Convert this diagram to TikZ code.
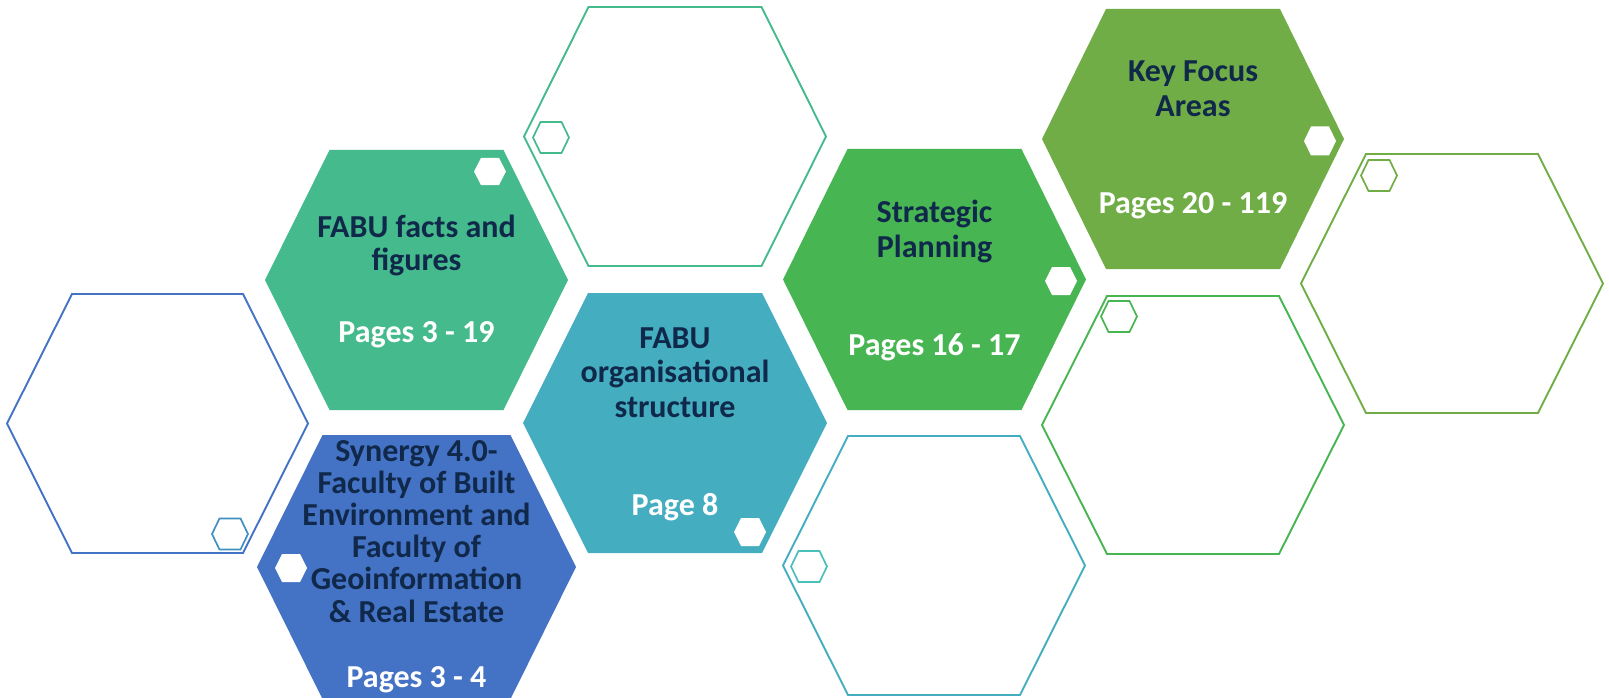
\documentclass[tikz,border=0pt]{standalone}
\usepackage{fontspec}
\setmainfont{Carlito}
\definecolor{cblue}{HTML}{4472C4}
\definecolor{cteal}{HTML}{44AEC0}
\definecolor{cmint}{HTML}{45BA8C}
\definecolor{cgreen}{HTML}{48B553}
\definecolor{colive}{HTML}{70AD47}
\definecolor{csky}{HTML}{3F90C2}
\definecolor{caqua}{HTML}{4BC0B8}
\definecolor{cnavy}{HTML}{10284A}
\newcommand{\hexshape}[5]{({#1-#3},{#2}) -- ({#1-#5},{#2-#4}) -- ({#1+#5},{#2-#4}) -- ({#1+#3},{#2}) -- ({#1+#5},{#2+#4}) -- ({#1-#5},{#2+#4}) -- cycle}
\begin{document}
\begin{tikzpicture}[x=1pt,y=-1pt,
  outl/.style={draw=#1,line width=1.9pt,line join=miter},
  smallout/.style={draw=#1,line width=1.7pt},
  whitehex/.style={fill=white},
  title/.style={font=\fontsize{32}{34.5}\selectfont\bfseries,text=cnavy,align=center,inner sep=0pt,anchor=base},
  pages/.style={font=\fontsize{32}{34}\selectfont\bfseries,text=white,align=center,inner sep=0pt,anchor=base}]
\useasboundingbox (0,0) rectangle (1609,698);
\begin{scope}
\clip (0,0) rectangle (1609,698);
% 1 blue outline
\draw[outl=cblue] \hexshape{157.5}{423.5}{150.5}{129.5}{85.5};
\draw[smallout=csky] \hexshape{230}{534}{18}{15.5}{10.5};
% 2 FABU facts
\fill[cmint] \hexshape{416.5}{280}{151.5}{130}{87};
\fill[whitehex] \hexshape{490}{171.5}{16}{13.5}{9};
% 3 Synergy
\fill[cblue] \hexshape{416.5}{567}{159.5}{132}{94};
\fill[whitehex] \hexshape{291}{568}{16}{14}{9};
% 4 green outline top
\draw[outl=cmint] \hexshape{675}{136.5}{151}{129.5}{86.5};
\draw[smallout=cmint] \hexshape{551}{137.5}{18}{15.5}{10.5};
% 5 FABU org
\fill[cteal] \hexshape{675}{423}{152}{130}{87};
\fill[whitehex] \hexshape{750}{532}{16}{14}{9};
% 6 Strategic
\fill[cgreen] \hexshape{934.5}{279.5}{151.5}{130.5}{87};
\fill[whitehex] \hexshape{1061}{281}{16}{14}{9};
% 7 teal outline
\draw[outl=cteal] \hexshape{934}{565.5}{151}{129.5}{86};
\draw[smallout=caqua] \hexshape{809}{566.5}{18}{15.5}{10.5};
% 8 Key focus
\fill[colive] \hexshape{1193}{139}{151}{130}{87};
\fill[whitehex] \hexshape{1320}{141}{16}{14.5}{9};
% 9 green outline
\draw[outl=cgreen] \hexshape{1193}{425}{151}{129}{86};
\draw[smallout=cgreen] \hexshape{1119}{316.5}{18}{15.5}{10.5};
% 10 olive outline
\draw[outl=colive] \hexshape{1452}{283.5}{151}{129.5}{86};
\draw[smallout=colive] \hexshape{1379}{175.5}{18}{15.5}{10.5};
% texts (base anchor = baseline of last line)
\node[title,font=\fontsize{32}{33}\selectfont\bfseries] (t1) at (416.5,270) {FABU facts and\\figures};
\node[pages] (p1) at (416.5,342) {Pages 3 - 19};
\node[title,font=\fontsize{32}{32.2}\selectfont\bfseries] (t2) at (416.5,622) {Synergy 4.0-\\Faculty of Built\\Environment and\\Faculty of\\Geoinformation\\\& Real Estate};
\node[pages] (p2) at (416.5,687) {Pages 3 - 4};
\node[title] (t3) at (675,417) {FABU\\organisational\\structure};
\node[pages] (p3) at (675,515) {Page 8};
\node[title,font=\fontsize{32}{35}\selectfont\bfseries] (t4) at (934.5,257) {Strategic\\Planning};
\node[pages] (p4) at (934.5,355) {Pages 16 - 17};
\node[title,font=\fontsize{32}{35}\selectfont\bfseries] (t5) at (1193,117) {Key Focus\\Areas};
\node[pages] (p5) at (1193,213) {Pages 20 - 119};
\end{scope}
\end{tikzpicture}
\end{document}
